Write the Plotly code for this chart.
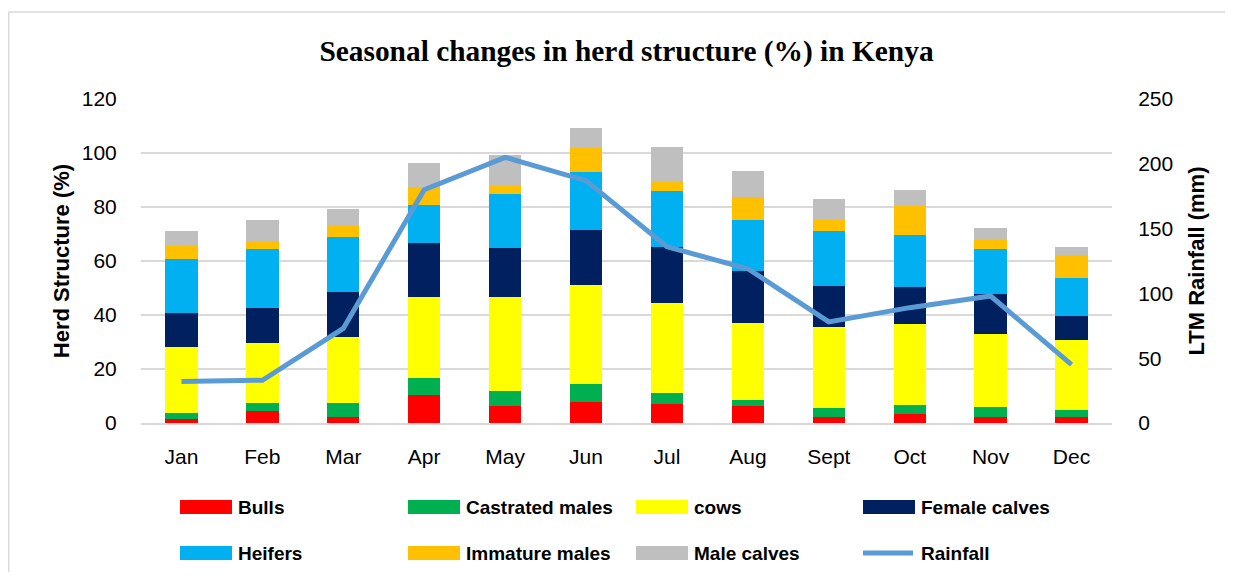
import plotly.graph_objects as go

months = ["Jan", "Feb", "Mar", "Apr", "May", "Jun", "Jul", "Aug", "Sept", "Oct", "Nov", "Dec"]

bulls = [1.4, 4.4, 2.3, 10.2, 6.4, 7.9, 6.9, 6.3, 2.3, 3.3, 2.3, 2.3]
castrated_males = [2.4, 3.1, 5.2, 6.6, 5.6, 6.5, 4.2, 2.2, 3.1, 3.5, 3.7, 2.4]
cows = [24.2, 22.1, 24.2, 30.0, 34.8, 36.7, 33.3, 28.7, 30.3, 29.9, 26.8, 26.2]
female_calves = [12.9, 13.1, 16.9, 19.7, 18.1, 20.5, 20.9, 19.1, 15.0, 13.8, 15.1, 8.6]
heifers = [20.0, 21.7, 20.4, 14.1, 19.8, 21.2, 20.7, 19.0, 20.4, 19.1, 16.7, 14.2]
immature_males = [4.6, 3.1, 4.1, 6.7, 3.2, 9.2, 3.3, 8.4, 4.1, 10.8, 3.2, 8.5]
male_calves = [5.6, 7.7, 6.2, 8.9, 11.4, 7.1, 12.8, 9.5, 7.9, 5.9, 4.3, 2.9]
rainfall = [32, 33, 73, 180, 205, 187, 136, 119, 78, 89, 98, 45]

series_names = ["Bulls", "Castrated males", "cows", "Female calves", "Heifers", "Immature males", "Male calves"]
series_values = [bulls, castrated_males, cows, female_calves, heifers, immature_males, male_calves]
series_colors = ["#FF0000", "#00B050", "#FFFF00", "#002060", "#00B0F0", "#FFC000", "#BFBFBF"]
rain_color = "#5B9BD5"

# page has an 8px body margin; figure placed at (8, 8); keep page from scrolling
OFF = 8
W, H = 1233 - OFF, 580 - 2 * OFF
PL, PR, PT, PB = 141, 1112, 99, 423  # plot area in page pixels
ML, MT = PL - OFF, PT - OFF
MR, MB = W - (PR - OFF), H - (PB - OFF)
PW = PR - PL
PH = PB - PT

fig = go.Figure()
for name, vals, col in zip(series_names, series_values, series_colors):
    fig.add_trace(go.Bar(x=months, y=vals, name=name, marker=dict(color=col, line=dict(width=0)),
                         showlegend=False))
fig.add_trace(go.Scatter(x=months, y=rainfall, name="Rainfall", mode="lines", yaxis="y2",
                         line=dict(color=rain_color, width=5), showlegend=False))

def px_x(p):
    return (p - PL) / PW

def px_y(p):
    return (PB - p) / PH

shapes = []
annotations = []
# chart frame (top and left edges visible)
frame_line = dict(color="#D9D9D9", width=1.5)
shapes.append(dict(type="line", xref="paper", yref="paper", x0=px_x(8.75), x1=px_x(1233),
                   y0=px_y(12), y1=px_y(12), line=frame_line, layer="below"))
shapes.append(dict(type="line", xref="paper", yref="paper", x0=px_x(8.75), x1=px_x(8.75),
                   y0=px_y(12), y1=px_y(580), line=frame_line, layer="below"))

# custom legend
legend_items = list(zip(series_names, series_colors)) + [("Rainfall", rain_color)]
col_x = [180, 408, 636, 863]
row_y = [507, 553]
for i, (name, col) in enumerate(legend_items):
    cx = col_x[i % 4]
    cy = row_y[i // 4]
    if name == "Rainfall":
        shapes.append(dict(type="line", xref="paper", yref="paper", x0=px_x(cx), x1=px_x(cx + 50),
                           y0=px_y(cy), y1=px_y(cy), line=dict(color=col, width=5)))
    else:
        shapes.append(dict(type="rect", xref="paper", yref="paper", x0=px_x(cx), x1=px_x(cx + 52),
                           y0=px_y(cy + 7), y1=px_y(cy - 7), line=dict(width=0), fillcolor=col))
    annotations.append(dict(text="<b>" + name + "</b>", xref="paper", yref="paper",
                            x=px_x(cx + 56), y=px_y(cy), xanchor="left", yanchor="middle",
                            showarrow=False, font=dict(family="Liberation Sans", size=19, color="#000000")))

tick_font = dict(family="Liberation Sans", size=21, color="#000000")
title_font = dict(family="Liberation Sans", size=22, color="#000000")

fig.update_layout(
    width=W, height=H,
    margin=dict(l=ML, r=MR, t=MT, b=MB, pad=0),
    barmode="stack", bargap=0.6,
    paper_bgcolor="white", plot_bgcolor="white",
    title=dict(text="<b>Seasonal changes in herd structure (%) in Kenya</b>", x=0.5, xref="paper",
               xanchor="center", y=1 - (51 - OFF) / H, yref="container", yanchor="middle",
               font=dict(family="Liberation Serif", size=29.4, color="#000000")),
    xaxis=dict(type="category", tickfont=tick_font, showgrid=False, showline=True,
               linecolor="#D9D9D9", linewidth=1.5, ticks="outside", ticklen=14,
               tickcolor="rgba(0,0,0,0)"),
    yaxis=dict(range=[0, 120], dtick=20, tickfont=tick_font, showgrid=True, gridcolor="#D9D9D9",
               gridwidth=1.5, zeroline=False, ticks="outside", ticklen=19,
               tickcolor="rgba(0,0,0,0)",
               title=dict(text="<b>Herd Structure (%)</b>", font=title_font, standoff=6)),
    yaxis2=dict(range=[0, 250], dtick=50, overlaying="y", side="right", tickfont=tick_font,
                showgrid=False, zeroline=False, ticks="outside", ticklen=21,
                tickcolor="rgba(0,0,0,0)",
                title=dict(text="<b>LTM Rainfall (mm)</b>", font=title_font, standoff=16)),
    shapes=shapes,
    annotations=annotations,
    showlegend=False,
)

fig.write_html("out.html")
